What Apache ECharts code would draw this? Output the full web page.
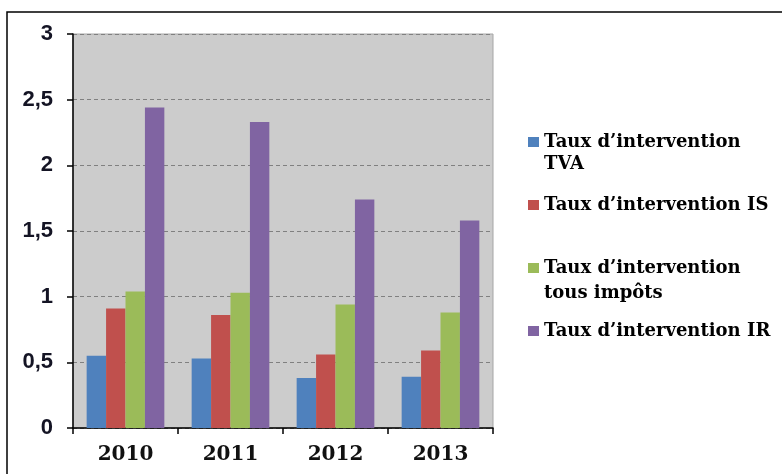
<!DOCTYPE html>
<html lang="fr">
<head>
    <meta charset="UTF-8">
    <title>Taux d'intervention</title>
    <script src="https://cdn.jsdelivr.net/npm/echarts@6/dist/echarts.min.js"></script>
</head>
<style>
    html, body { margin: 0; padding: 0; background: #ffffff; }
    #chart { width: 782px; height: 474px; }
</style>
<body>
<div id="chart"></div>
<script type="text/javascript">
    // données
    const annees = ['2010', '2011', '2012', '2013'];
    const tauxTVA = [0.55, 0.53, 0.38, 0.39];
    const tauxIS = [0.91, 0.86, 0.56, 0.59];
    const tauxTous = [1.04, 1.03, 0.94, 0.88];
    const tauxIR = [2.44, 2.33, 1.74, 1.58];
    const yTicks = ['0', '0,5', '1', '1,5', '2', '2,5', '3'];

    const serif = '"DejaVu Serif", "Liberation Serif", serif';

    function serie(nom, data, couleur) {
        return {
            name: nom,
            type: 'bar',
            data: data,
            barGap: '0%',
            barCategoryGap: '26%',
            itemStyle: { color: couleur }
        };
    }

    let myChart = echarts.init(document.getElementById('chart'));
    myChart.setOption({
        animation: false,
        grid: {
            left: 73, right: 289, top: 34, bottom: 46,
            show: true,
            backgroundColor: '#cccccc',
            borderColor: '#a6a6a6',
            borderWidth: 1
        },
        legend: {
            orient: 'vertical',
            left: 523,
            top: 127,
            itemWidth: 11,
            itemHeight: 10,
            itemGap: 43,
            icon: 'rect',
            selectedMode: false,
            formatter: function (name) {
                return name.split('\n')[0];
            },
            textStyle: {
                fontFamily: serif,
                fontWeight: 'bold',
                fontSize: 18,
                lineHeight: 20,
                color: '#000'
            },
            data: ['Taux d’intervention\nTVA', 'Taux d’intervention IS',
                'Taux d’intervention\ntous impôts', 'Taux d’intervention IR']
        },
        graphic: [
            {
                type: 'rect',
                shape: { x: 7, y: 12, width: 800, height: 500 },
                style: { fill: 'none', stroke: '#000', lineWidth: 1.5 },
                silent: true
            },
            {
                type: 'text', left: 544, top: 155,
                style: { text: 'TVA', font: 'bold 18px ' + serif, fill: '#000' }
            },
            {
                type: 'text', left: 544, top: 284,
                style: { text: 'tous impôts', font: 'bold 18px ' + serif, fill: '#000' }
            }
        ],
        xAxis: {
            type: 'category',
            data: annees,
            axisLine: { lineStyle: { color: '#000', width: 1.5 } },
            axisTick: { show: true, length: 6, lineStyle: { color: '#000', width: 1.5 } },
            axisLabel: {
                margin: 17,
                fontFamily: serif,
                fontWeight: 'bold',
                fontSize: 20,
                color: '#111'
            }
        },
        yAxis: {
            type: 'value',
            min: 0,
            max: 3,
            interval: 0.5,
            axisLine: { show: true, lineStyle: { color: '#000', width: 1.5 } },
            axisTick: { show: true, length: 6, lineStyle: { color: '#000', width: 1.5 } },
            axisLabel: {
                margin: 20,
                fontFamily: '"Liberation Sans", Arial, sans-serif',
                fontWeight: 'bold',
                fontSize: 22,
                color: '#141424',
                formatter: function (v) {
                    return yTicks[Math.round(v * 2)];
                }
            },
            splitLine: {
                show: true,
                lineStyle: { color: '#808080', type: [4, 3], width: 1 }
            }
        },
        series: [
            serie('Taux d’intervention\nTVA', tauxTVA, '#4f81bd'),
            serie('Taux d’intervention IS', tauxIS, '#c0504d'),
            serie('Taux d’intervention\ntous impôts', tauxTous, '#9bbb59'),
            serie('Taux d’intervention IR', tauxIR, '#8064a2')
        ]
    });
</script>
</body>
</html>
